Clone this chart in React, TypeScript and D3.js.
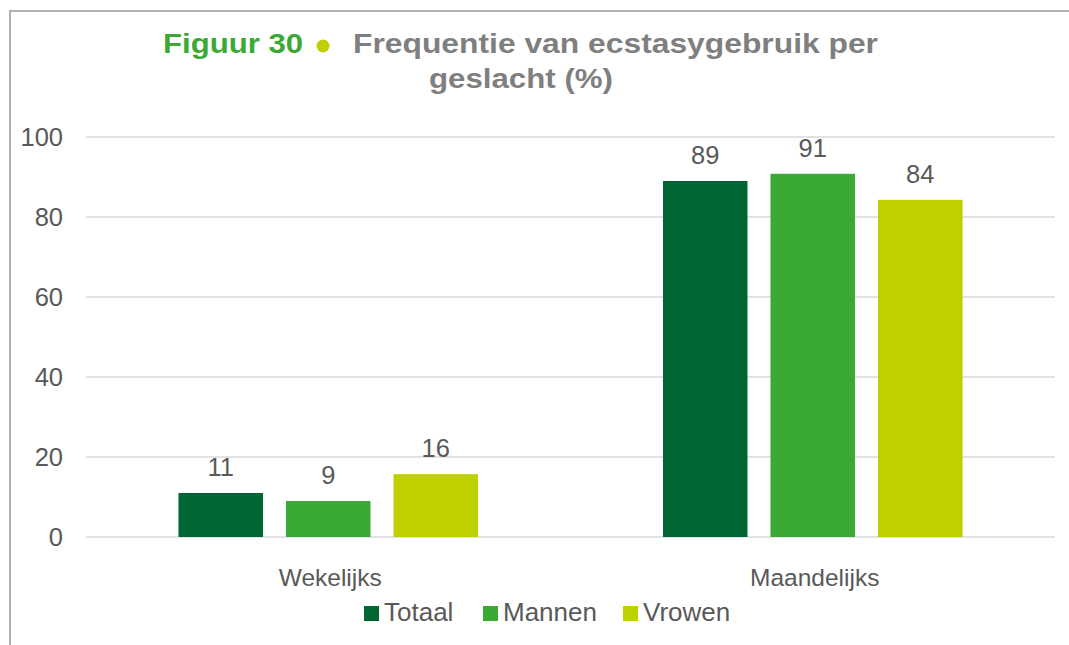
import React from "react";
import * as d3 from "d3";

const categories = ["Wekelijks", "Maandelijks"];
const seriesNames = ["Totaal", "Mannen", "Vrowen"];
const totaal = [11, 89];
const mannen = [9, 90.8];
const vrowen = [15.7, 84.3];
const yTicks = [0, 20, 40, 60, 80, 100];
const colors = ["#006633", "#3BAA35", "#BED000"];

const W = 1069;
const H = 645;
const left = 86;
const right = 1055;
const top = 137;
const bottom = 537;
const font = "'Liberation Sans', Arial, sans-serif";

export default function App() {
  const series = [totaal, mannen, vrowen];
  const x0 = d3.scaleBand<string>().domain(categories).range([left, right]).paddingInner(0).paddingOuter(0);
  const x1 = d3.scaleBand<string>().domain(seriesNames).range([0, x0.bandwidth()]).paddingInner(0.214).paddingOuter(0.86);
  const y = d3.scaleLinear().domain([0, 100]).range([bottom, top]);

  const legendX = [364, 483, 623];

  return (
    <svg width={W} height={H} style={{ position: "absolute", left: 0, top: 0, display: "block" }} fontFamily={font}>
      <rect x={0} y={0} width={W} height={H} fill="#fff" />
      <line x1={10} y1={10} x2={10} y2={H} stroke="#b0b0b0" strokeWidth={2} />
      <line x1={9} y1={11} x2={W} y2={11} stroke="#b0b0b0" strokeWidth={2} />

      <text x={163} y={53} fontSize={28} fontWeight="bold" fill="#3BAA35" textLength={140} lengthAdjust="spacingAndGlyphs">
        Figuur 30
      </text>
      <circle cx={323} cy={46} r={6.5} fill="#BED000" />
      <text x={353} y={53} fontSize={28} fontWeight="bold" fill="#7f7f7f" textLength={525} lengthAdjust="spacingAndGlyphs">
        Frequentie van ecstasygebruik per
      </text>
      <text x={429} y={88} fontSize={28} fontWeight="bold" fill="#7f7f7f" textLength={184} lengthAdjust="spacingAndGlyphs">
        geslacht (%)
      </text>

      {yTicks.map((t) => (
        <g key={t}>
          <line x1={left} x2={right} y1={y(t)} y2={y(t)} stroke="#d9d9d9" strokeWidth={1.5} />
          <text x={63} y={y(t) + 9} textAnchor="end" fontSize={25.5} fill="#595959">
            {t}
          </text>
        </g>
      ))}

      {categories.map((c, ci) => (
        <g key={c} transform={`translate(${x0(c)},0)`}>
          {series.map((s, si) => {
            const bx = x1(seriesNames[si])!;
            const bw = x1.bandwidth();
            return (
              <g key={si}>
                <rect x={bx} y={y(s[ci])} width={bw} height={y(0) - y(s[ci])} fill={colors[si]} />
                <text x={bx + bw / 2} y={y(s[ci]) - 17} textAnchor="middle" fontSize={25.5} fill="#595959">
                  {Math.round(s[ci])}
                </text>
              </g>
            );
          })}
          <text x={x0.bandwidth() / 2 + 2} y={586} textAnchor="middle" fontSize={24.5} fill="#595959">
            {c}
          </text>
        </g>
      ))}

      {seriesNames.map((n, i) => (
        <g key={n}>
          <rect x={legendX[i]} y={606} width={15} height={15} fill={colors[i]} />
          <text x={legendX[i] + 20} y={621} fontSize={26} fill="#595959">
            {n}
          </text>
        </g>
      ))}
    </svg>
  );
}
